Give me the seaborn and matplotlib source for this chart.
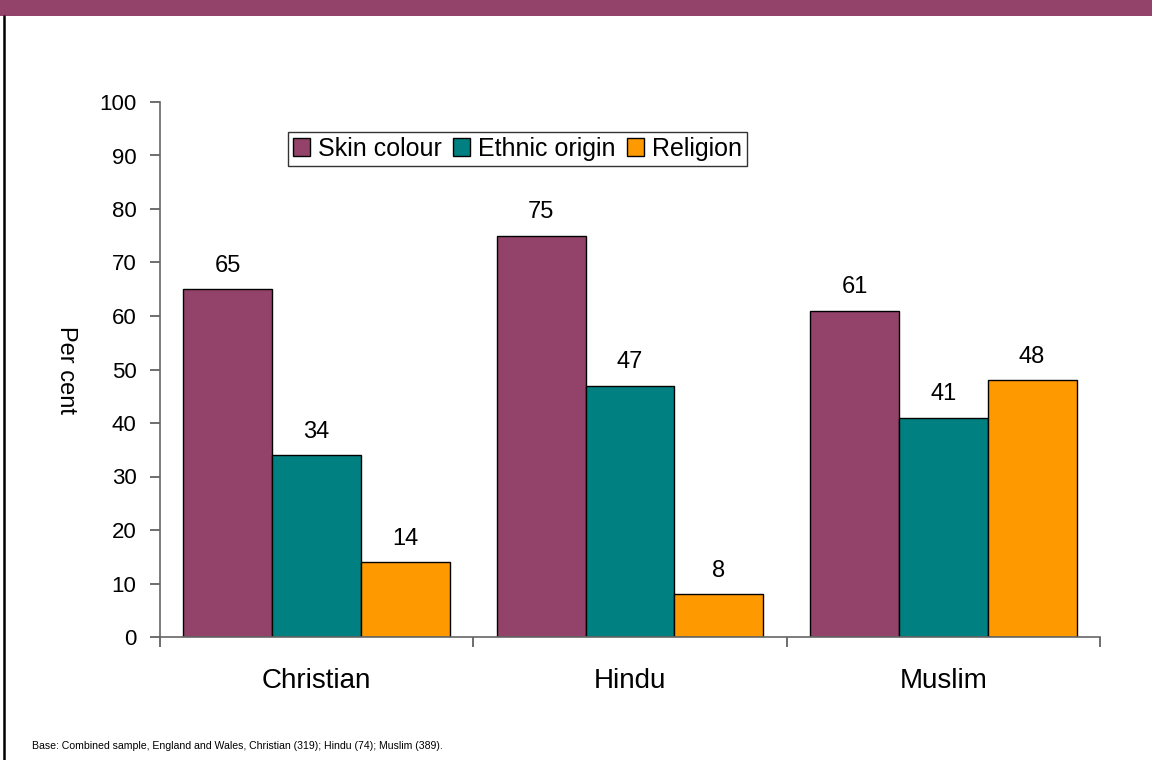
import matplotlib
matplotlib.use("Agg")
import matplotlib.pyplot as plt
import seaborn as sns
import pandas as pd
from matplotlib.ticker import FixedLocator, NullFormatter

# Survey results: share reporting each form of prejudice, by respondent religion
religions = ["Christian", "Hindu", "Muslim"]
reasons = ["Skin colour", "Ethnic origin", "Religion"]
skin_colour = [65, 75, 61]
ethnic_origin = [34, 47, 41]
religion = [14, 8, 48]
y_ticks = [0, 10, 20, 30, 40, 50, 60, 70, 80, 90, 100]
footnote = "Base: Combined sample, England and Wales, Christian (319); Hindu (74); Muslim (389)."

colors = ["#93426A", "#008080", "#FF9900"]

df = pd.DataFrame({
    "religion": religions * 3,
    "reason": [reasons[0]] * 3 + [reasons[1]] * 3 + [reasons[2]] * 3,
    "value": skin_colour + ethnic_origin + religion,
})

sns.set_theme(style="white")
plt.rcParams["font.family"] = ["Liberation Sans", "DejaVu Sans"]
plt.rcParams["text.color"] = "black"
plt.rcParams["axes.labelcolor"] = "black"
plt.rcParams["xtick.color"] = "black"
plt.rcParams["ytick.color"] = "black"

fig = plt.figure(figsize=(11.52, 7.6), dpi=100)

# header band and left rule
fig.patches.append(plt.Rectangle((0, 1 - 16 / 760), 1, 16 / 760, transform=fig.transFigure,
                                 facecolor="#93426A", edgecolor="none", zorder=0))
fig.lines.append(plt.Line2D([4 / 1152, 4 / 1152], [0, 1 - 16 / 760], transform=fig.transFigure,
                            color="black", linewidth=1.8))

ax = fig.add_axes([160 / 1152, 1 - 637 / 760, 940 / 1152, 535 / 760])

sns.barplot(data=df, x="religion", y="value", hue="reason", order=religions,
            hue_order=reasons, palette=colors, width=0.85, saturation=1,
            edgecolor="black", linewidth=1, ax=ax)

ax.set_ylim(0, 100)
ax.set_xlim(-0.5, 2.5)
ax.set_yticks(y_ticks)
ax.set_yticklabels([str(t) for t in y_ticks], fontsize=16)

# category boundaries as tick marks, labels centred on groups
ax.xaxis.set_major_locator(FixedLocator([-0.5, 0.5, 1.5, 2.5]))
ax.xaxis.set_major_formatter(NullFormatter())
ax.xaxis.set_minor_locator(FixedLocator([0, 1, 2]))
ax.set_xticklabels(religions, minor=True, fontsize=20)
ax.tick_params(axis="x", which="major", direction="out", length=7, width=1.2,
               color="#555555", bottom=True)
ax.tick_params(axis="x", which="minor", length=0, pad=22, bottom=True, labelcolor="black")
ax.tick_params(axis="y", direction="out", length=7, width=1.2, color="#555555",
               labelcolor="black", left=True, pad=10)

for s in ["top", "right"]:
    ax.spines[s].set_visible(False)
for s in ["left", "bottom"]:
    ax.spines[s].set_color("#666666")
    ax.spines[s].set_linewidth(1.2)

ax.set_xlabel("")
ax.set_ylabel("Per cent", fontsize=17, rotation=-90, va="center")
ax.yaxis.set_label_coords(-0.1, 0.5)

for cont in ax.containers:
    ax.bar_label(cont, labels=[f"{v:g}" for v in cont.datavalues], padding=9, fontsize=17,
                 color="black")

leg = ax.legend(loc="upper left", bbox_to_anchor=(0.136, 0.944), ncol=3, fontsize=18,
                frameon=True, fancybox=False, edgecolor="black", borderaxespad=0,
                borderpad=0.2, handlelength=0.7, handleheight=0.7, handletextpad=0.3,
                columnspacing=0.45, title=None)
leg.get_frame().set_linewidth(1)
for t in leg.get_texts():
    t.set_color("black")

fig.text(32 / 1152, 1 - 746 / 760, footnote, fontsize=7.6, va="center", ha="left")

fig.savefig("out.png", dpi=100)
